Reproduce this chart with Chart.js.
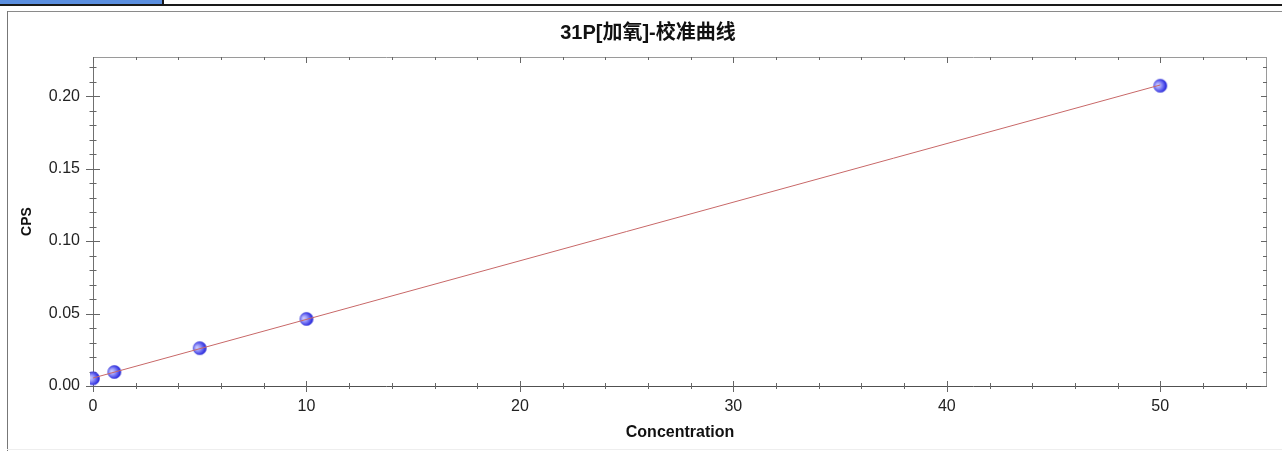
<!DOCTYPE html>
<html>
<head>
<meta charset="utf-8">
<script src="https://cdn.jsdelivr.net/npm/chart.js@4"></script>
<style>
  html, body { margin: 0; padding: 0; background: #fff; width: 1282px; height: 451px; overflow: hidden; position: relative; }
  #tab { position: absolute; left: 0; top: 0; width: 162px; height: 4px; background: #5b8fe0; border-right: 2px solid #1a1a1a; }
  #topline { position: absolute; left: 0; top: 4px; width: 1282px; height: 2px; background: #1a1a1a; }
  #panelTop { position: absolute; left: 7px; top: 11px; width: 1275px; height: 1px; background: #8a8a8a; }
  #panelLeft { position: absolute; left: 7px; top: 11px; width: 1px; height: 440px; background: #777; }
  #panelBottom { position: absolute; left: 7px; top: 449px; width: 1275px; height: 1px; background: #eee; }
  #wrap { position: absolute; left: 8px; top: 12px; width: 1280px; height: 437px; }
</style>
</head>
<body>
<div id="tab"></div>
<div id="topline"></div>
<div id="panelTop"></div>
<div id="panelLeft"></div>
<div id="panelBottom"></div>
<div id="wrap"><canvas id="c" width="1280" height="437"></canvas></div>
<script>
// ---- data ----
const concentrations = [0, 1, 5, 10, 50];
const cps = [0.0053, 0.0097, 0.0261, 0.0463, 0.2072];
const fitLineX = [0, 50];
const fitLineY = [0.0055, 0.2077];
const xTickLabels = [0, 10, 20, 30, 40, 50];
const yTickLabels = [0.00, 0.05, 0.10, 0.15, 0.20];
const titleText = '31P[加氧]-校准曲线';
const xTitle = 'Concentration';
const yTitle = 'CPS';

// sphere marker
function makeSphere(r) {
  const s = Math.ceil(r * 2) + 2;
  const cv = document.createElement('canvas');
  cv.width = s; cv.height = s;
  const g = cv.getContext('2d');
  const c = s / 2;
  const grad = g.createRadialGradient(c - r * 0.45, c - r * 0.1, 0, c - r * 0.15, c, r * 1.1);
  grad.addColorStop(0, '#d4d4ff');
  grad.addColorStop(0.4, '#9a9af8');
  grad.addColorStop(0.8, '#4a4aea');
  grad.addColorStop(1, '#2424d6');
  g.beginPath();
  g.arc(c, c, r, 0, Math.PI * 2);
  g.fillStyle = grad;
  g.fill();
  g.lineWidth = 0.6;
  g.strokeStyle = '#4848d8';
  g.stroke();
  return cv;
}
const sphere = makeSphere(6.6);

const boxPlugin = {
  id: 'boxPlugin',
  beforeDatasetsDraw(chart) {
    const { ctx, chartArea: a, scales } = chart;
    const xs = scales.x, ys = scales.y;
    ctx.save();
    ctx.lineWidth = 1;
    // frame
    ctx.strokeStyle = '#9a9a9a';
    ctx.beginPath();
    ctx.moveTo(a.left, a.top + 0.5); ctx.lineTo(a.right, a.top + 0.5);
    ctx.moveTo(a.right - 0.5, a.top); ctx.lineTo(a.right - 0.5, a.bottom);
    ctx.stroke();
    ctx.strokeStyle = '#707070';
    ctx.beginPath();
    ctx.moveTo(a.left + 0.5, a.top); ctx.lineTo(a.left + 0.5, a.bottom + 1);
    ctx.stroke();
    ctx.strokeStyle = '#505050';
    ctx.beginPath();
    ctx.moveTo(a.left, a.bottom + 0.5); ctx.lineTo(a.right, a.bottom + 0.5);
    ctx.stroke();
    // x ticks
    ctx.strokeStyle = '#666';
    ctx.beginPath();
    for (let i = 0; i * 2 <= xs.max + 1e-9; i++) {
      const v = i * 2;
      const px = Math.round(xs.getPixelForValue(v)) + 0.5;
      const major = v % 10 === 0;
      const up = major ? 5 : 3, dn = major ? 6 : 3;
      ctx.moveTo(px, a.bottom - up); ctx.lineTo(px, a.bottom + dn);
      ctx.moveTo(px, a.top); ctx.lineTo(px, a.top + (major ? 6 : 3));
    }
    // y ticks
    for (let i = 0; i * 0.01 <= ys.max + 1e-9; i++) {
      const v = i * 0.01;
      const py = Math.round(ys.getPixelForValue(v)) + 0.5;
      const major = i % 5 === 0;
      const l = major ? 7 : 3.5;
      ctx.moveTo(a.left - l, py); ctx.lineTo(a.left + l, py);
      ctx.moveTo(a.right, py); ctx.lineTo(a.right - (major ? 6 : 4), py);
    }
    ctx.stroke();
    ctx.restore();
  }
};

const tickFont = { family: '"Liberation Sans", Arial, sans-serif', size: 16 };
const titleFontFamily = '"Liberation Sans", Arial, "Noto Sans CJK SC", sans-serif';

new Chart(document.getElementById('c'), {
  type: 'scatter',
  data: {
    datasets: [
      {
        type: 'line',
        data: fitLineX.map((x, i) => ({ x, y: fitLineY[i] })),
        borderColor: '#c86868',
        borderWidth: 1,
        pointRadius: 0,
        fill: false,
        clip: 0
      },
      {
        data: concentrations.map((x, i) => ({ x, y: cps[i] })),
        pointStyle: sphere,
        pointRadius: 6.6,
        showLine: false,
        clip: 3
      }
    ]
  },
  options: {
    responsive: false,
    animation: false,
    devicePixelRatio: 1,
    layout: { padding: 0 },
    plugins: {
      legend: { display: false },
      tooltip: { enabled: false },
      title: {
        display: true,
        text: titleText,
        color: '#111',
        font: { family: titleFontFamily, size: 20, weight: 'bold', lineHeight: 1.2 },
        padding: { top: 9, bottom: 12 }
      }
    },
    scales: {
      x: {
        type: 'linear',
        min: 0, max: 55,
        grid: { display: false, drawTicks: false, tickLength: 0 },
        border: { display: false },
        afterBuildTicks: s => { s.ticks = xTickLabels.map(v => ({ value: v })); },
        afterFit: s => { s.height = 63; },
        ticks: { color: '#222', font: tickFont, padding: 11, maxRotation: 0, callback: v => String(v) },
        title: { display: true, text: xTitle, color: '#111', font: { family: titleFontFamily, size: 16, weight: 'bold' }, padding: { top: 0, bottom: 7 } }
      },
      y: {
        type: 'linear',
        min: 0, max: 0.227,
        grid: { display: false, drawTicks: false, tickLength: 0 },
        border: { display: false },
        afterBuildTicks: s => { s.ticks = yTickLabels.map(v => ({ value: v })); },
        afterFit: s => { s.width = 85; },
        ticks: { color: '#222', font: tickFont, padding: 13, callback: v => Number(v).toFixed(2) },
        title: { display: true, text: yTitle, color: '#111', font: { family: titleFontFamily, size: 14, weight: 'bold' }, padding: { top: 11, bottom: 0 } }
      },
      yRight: {
        type: 'linear',
        position: 'right',
        min: 0, max: 1,
        grid: { display: false, drawTicks: false, tickLength: 0 },
        border: { display: false },
        ticks: { display: false },
        afterFit: s => { s.width = 21; }
      }
    }
  },
  plugins: [boxPlugin]
});
</script>
</body>
</html>
